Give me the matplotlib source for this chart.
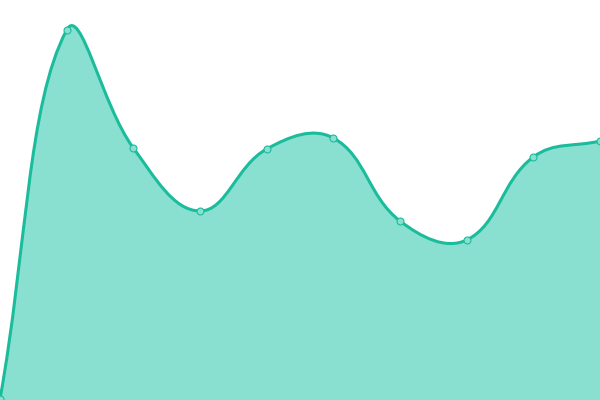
import numpy as np
import matplotlib

matplotlib.use("Agg")
import matplotlib.pyplot as plt
from matplotlib.path import Path
from matplotlib.patches import PathPatch

# values (pixel-ish units, 0 = bottom edge)
x_vals = [0, 1, 2, 3, 4, 5, 6, 7, 8, 9]
y_vals = [1, 370, 252, 189, 251, 262, 179, 160, 243, 259]

LINE = "#1abc9c"
FILL = "#8ae0d0"
X_SCALE = 600 / 9  # px per x unit, used for the smoothing distances


def smooth_path(xs, ys, tension=0.4):
    """Bezier path through the points, spline control points scaled by segment length."""
    pts = np.column_stack([np.asarray(xs, float) * X_SCALE, np.asarray(ys, float)])
    n = len(pts)
    cps = []
    for i in range(n):
        p = pts[i]
        prev = pts[i - 1] if i > 0 else p
        nxt = pts[i + 1] if i < n - 1 else p
        v = nxt - prev
        d0 = np.hypot(*(p - prev))
        d1 = np.hypot(*(nxt - p))
        s = d0 + d1
        if s == 0:
            cps.append((p, p))
            continue
        cps.append((p - v * tension * d0 / s, p + v * tension * d1 / s))
    verts = [pts[0]]
    codes = [Path.MOVETO]
    for i in range(n - 1):
        verts += [cps[i][1], cps[i + 1][0], pts[i + 1]]
        codes += [Path.CURVE4] * 3
    verts = np.array(verts)
    verts[:, 0] /= X_SCALE
    return verts, codes


verts, codes = smooth_path(x_vals, y_vals)

fig = plt.figure(figsize=(6, 4), dpi=100)
ax = fig.add_axes([0, 0, 1, 1])
ax.set_xlim(0, 9)
ax.set_ylim(0, 400)
ax.axis("off")

# area under the curve
fill_verts = np.vstack([verts, [[x_vals[-1], 0], [x_vals[0], 0], verts[0]]])
fill_codes = codes + [Path.LINETO, Path.LINETO, Path.CLOSEPOLY]
ax.add_patch(PathPatch(Path(fill_verts, fill_codes), facecolor=FILL, edgecolor="none", zorder=1))

# smooth line
ax.add_patch(PathPatch(Path(verts, codes), facecolor="none", edgecolor=LINE, lw=2.2,
                       capstyle="round", joinstyle="round", zorder=2))

# point markers
ax.plot(x_vals, y_vals, ls="", marker="o", ms=5, mfc=FILL, mec=LINE, mew=0.8,
        zorder=3, clip_on=True)

fig.savefig("out.png", dpi=100)
